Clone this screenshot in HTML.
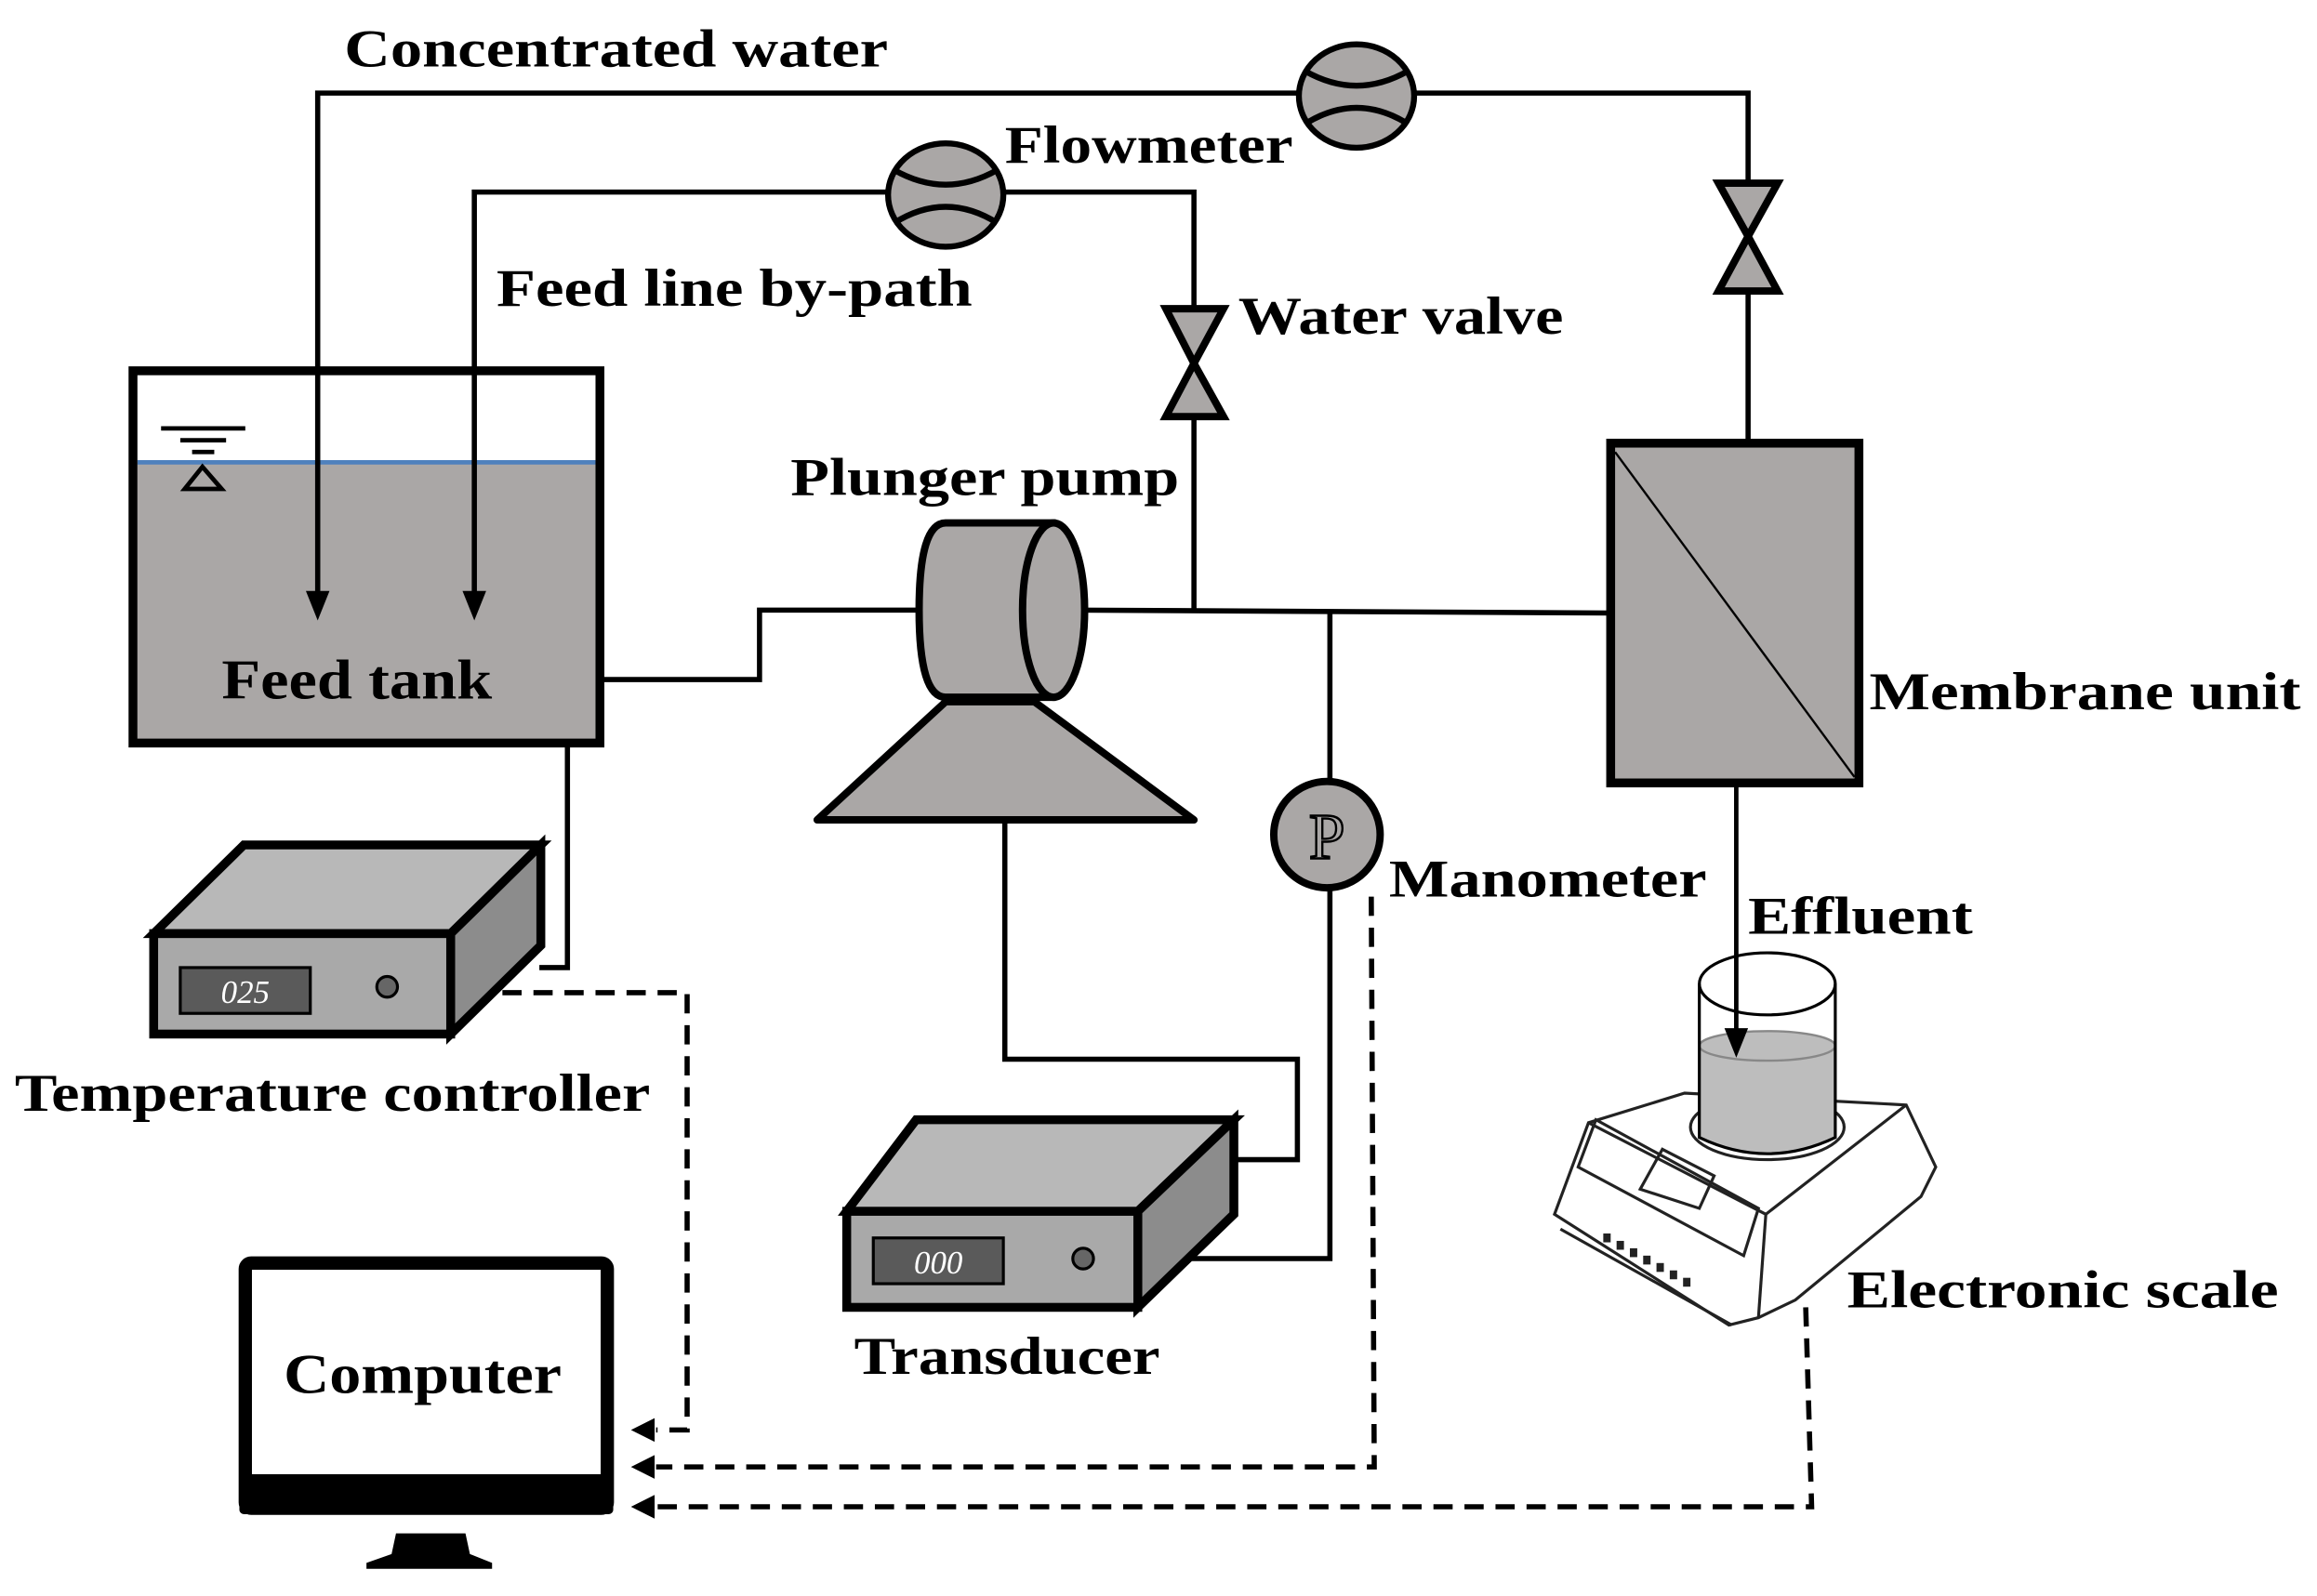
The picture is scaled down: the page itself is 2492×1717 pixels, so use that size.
<!DOCTYPE html>
<html><head><meta charset="utf-8"><style>html,body{margin:0;padding:0;background:#fff}svg{display:block}</style></head>
<body>
<svg width="2492" height="1717" viewBox="0 0 1568 1080.4" preserveAspectRatio="none" xmlns="http://www.w3.org/2000/svg">
<g font-family="Liberation Serif, serif" font-weight="bold" fill="#000">
<!-- feed tank -->
<rect x="93" y="313" width="310" height="188" fill="#aaa7a6"/>
<line x1="93" y1="313" x2="403" y2="313" stroke="#4f81bd" stroke-width="3"/>
<rect x="90" y="251" width="316" height="252" fill="none" stroke="#000" stroke-width="6"/>
<g stroke="#000" stroke-width="3"><line x1="109" y1="290" x2="166" y2="290"/><line x1="122" y1="298" x2="153" y2="298"/><line x1="130" y1="306" x2="145" y2="306"/></g>
<path d="M137,316 L125,331 L150,331 z" fill="none" stroke="#000" stroke-width="3"/>
<!-- pipes -->
<g stroke="#000" stroke-width="3.5" fill="none">
<polyline points="215,405 215,63 1183,63 1183,298"/>
<polyline points="321,405 321,130 808,130 808,412"/>
<polyline points="406,460 514,460 514,413 622,413"/>
<line x1="730" y1="413" x2="1090" y2="415"/>
<line x1="900" y1="415" x2="900" y2="530"/>
<polyline points="384,503 384,655 365,655"/>
<polyline points="680,557 680,717 878,717 878,785 835,785"/>
<polyline points="900,601 900,852 770,852"/>
</g>
<path d="M207,400 L223,400 L215,420 z"/>
<path d="M313,400 L329,400 L321,420 z"/>
<!-- flowmeters -->
<g stroke="#000" stroke-width="4" fill="#aaa7a6">
<ellipse cx="918" cy="65" rx="39" ry="35"/>
<ellipse cx="640" cy="132" rx="39" ry="35"/>
</g>
<g stroke="#000" stroke-width="4" fill="none">
<path d="M883,48 Q918,68 953,48"/><path d="M883,84 Q918,62 953,84"/>
<path d="M605,115 Q640,135 675,115"/><path d="M605,151 Q640,129 675,151"/>
</g>
<!-- valves -->
<g stroke="#000" stroke-width="5" fill="#aaa7a6" stroke-linejoin="miter">
<path d="M1163,124 L1203,124 L1183,160 z"/><path d="M1163,197 L1203,197 L1183,160 z"/>
<path d="M789,209 L828,209 L808,246 z"/><path d="M789,282 L828,282 L808,246 z"/>
</g>
<!-- pump -->
<path d="M640,475 L700,475 L808,555 L553,555 z" fill="#aaa7a6" stroke="#000" stroke-width="5" stroke-linejoin="round"/>
<path d="M640,354 L712,354 L712,472 L640,472 Q622,472 622,413 Q622,354 640,354 z" fill="#aaa7a6" stroke="#000" stroke-width="5"/>
<ellipse cx="713" cy="413" rx="21" ry="59" fill="#aaa7a6" stroke="#000" stroke-width="5"/>
<!-- manometer -->
<circle cx="898" cy="565" r="36" fill="#aaa7a6" stroke="#000" stroke-width="5"/>
<text x="898" y="581" font-size="44" text-anchor="middle" font-weight="normal" fill="#aaa7a6" stroke="#000" stroke-width="1.5">P</text>
<!-- membrane -->
<rect x="1090" y="300" width="168" height="230" fill="#aaa7a6" stroke="#000" stroke-width="6"/>
<line x1="1093" y1="306" x2="1255" y2="526" stroke="#000" stroke-width="1.5"/>
<!-- temperature controller -->
<g stroke="#000" stroke-width="6" stroke-linejoin="miter">
<path d="M104,632 L165,572 L366,572 L305,632 z" fill="#b8b8b8"/>
<path d="M305,632 L366,572 L366,640 L305,700 z" fill="#8c8c8c"/>
<rect x="104" y="632" width="201" height="68" fill="#a9a9a9"/>
</g>
<rect x="122" y="655" width="88" height="31" fill="#5a5a5a" stroke="#000" stroke-width="2"/>
<text x="166" y="679" font-size="22" font-style="italic" font-weight="normal" fill="#fff" text-anchor="middle">025</text>
<circle cx="262" cy="668" r="7" fill="#666" stroke="#000" stroke-width="2"/>
<!-- transducer -->
<g stroke="#000" stroke-width="6" stroke-linejoin="miter">
<path d="M573,820 L620,758 L835,758 L770,820 z" fill="#b8b8b8"/>
<path d="M770,820 L835,758 L835,822 L770,885 z" fill="#8c8c8c"/>
<rect x="573" y="820" width="197" height="65" fill="#a9a9a9"/>
</g>
<rect x="591" y="838" width="88" height="31" fill="#5a5a5a" stroke="#000" stroke-width="2"/>
<text x="635" y="862" font-size="22" font-style="italic" font-weight="normal" fill="#fff" text-anchor="middle">000</text>
<circle cx="733" cy="852" r="7" fill="#666" stroke="#000" stroke-width="2"/>
<!-- computer -->
<rect x="166" y="855" width="245" height="166" rx="4" fill="#fff" stroke="#000" stroke-width="9"/>
<rect x="162" y="998" width="253" height="27" rx="3" fill="#000"/>
<path d="M268,1038 L315,1038 L318,1052 L333,1058 L333,1062 L248,1062 L248,1058 L265,1052 z" fill="#000"/>
<!-- dashed -->
<g stroke="#000" stroke-width="3.5" fill="none" stroke-dasharray="13,8">
<polyline points="340,672 465,672 465,968 444,968"/>
<polyline points="928,607 930,993 444,993"/>
<polyline points="1222,885 1226,1020 444,1020"/>
</g>
<path d="M427,968 L443,960 L443,976 z"/>
<path d="M427,993 L443,985 L443,1001 z"/>
<path d="M427,1020 L443,1012 L443,1028 z"/>
<!-- scale -->
<g stroke="#222" stroke-width="2" fill="none">
<path d="M1052,822 L1075,760 L1140,740 L1290,748 L1310,790 L1300,810 L1215,880 L1190,892 L1170,897 Z" fill="#fff"/>
<path d="M1056,832 L1172,897"/>
<path d="M1075,760 L1195,822 L1290,748"/>
<path d="M1195,822 L1190,892"/>
<path d="M1068,790 L1080,758 L1190,818 L1180,850 Z"/>
<path d="M1110,805 L1125,778 L1160,796 L1150,818 Z"/>
<ellipse cx="1196" cy="763" rx="52" ry="22"/>
<ellipse cx="1196" cy="760" rx="44" ry="17"/>
</g>
<g fill="#222"><rect x="1085" y="835" width="5" height="6"/><rect x="1094" y="840" width="5" height="6"/><rect x="1103" y="845" width="5" height="6"/><rect x="1112" y="850" width="5" height="6"/><rect x="1121" y="855" width="5" height="6"/><rect x="1130" y="860" width="5" height="6"/><rect x="1139" y="865" width="5" height="6"/></g>
<path d="M1150,708 L1150,770 Q1196,792 1242,770 L1242,708 Z" fill="#bdbdbd"/>
<ellipse cx="1196" cy="708" rx="46" ry="10" fill="#bdbdbd" stroke="#888" stroke-width="1.5"/>
<g stroke="#000" stroke-width="2" fill="none">
<ellipse cx="1196" cy="666" rx="46" ry="21"/>
<path d="M1150,666 L1150,770 Q1196,792 1242,770 L1242,666"/>
</g>
<line x1="1175" y1="531" x2="1175" y2="700" stroke="#000" stroke-width="3"/>
<path d="M1167,696 L1183,696 L1175,716 z"/>
<!-- labels -->
<text x="233" y="45" font-size="36" textLength="368" lengthAdjust="spacingAndGlyphs">Concentrated water</text>
<text x="680" y="110" font-size="36" textLength="195" lengthAdjust="spacingAndGlyphs">Flowmeter</text>
<text x="336" y="207" font-size="36" textLength="322" lengthAdjust="spacingAndGlyphs">Feed line by-path</text>
<text x="838" y="226" font-size="36" textLength="220" lengthAdjust="spacingAndGlyphs">Water  valve</text>
<text x="535" y="335" font-size="36" textLength="263" lengthAdjust="spacingAndGlyphs">Plunger pump</text>
<text x="150" y="473" font-size="38" textLength="183" lengthAdjust="spacingAndGlyphs">Feed tank</text>
<text x="1265" y="480" font-size="36" textLength="292" lengthAdjust="spacingAndGlyphs">Membrane unit</text>
<text x="940" y="607" font-size="36" textLength="215" lengthAdjust="spacingAndGlyphs">Manometer</text>
<text x="1183" y="632" font-size="36" textLength="152" lengthAdjust="spacingAndGlyphs">Effluent</text>
<text x="10" y="752" font-size="36" textLength="430" lengthAdjust="spacingAndGlyphs">Temperature  controller</text>
<text x="1250" y="885" font-size="36" textLength="292" lengthAdjust="spacingAndGlyphs">Electronic  scale</text>
<text x="578" y="930" font-size="36" textLength="207" lengthAdjust="spacingAndGlyphs">Transducer</text>
<text x="192" y="943" font-size="38" textLength="188" lengthAdjust="spacingAndGlyphs">Computer</text>
</g>
</svg>
</body></html>
